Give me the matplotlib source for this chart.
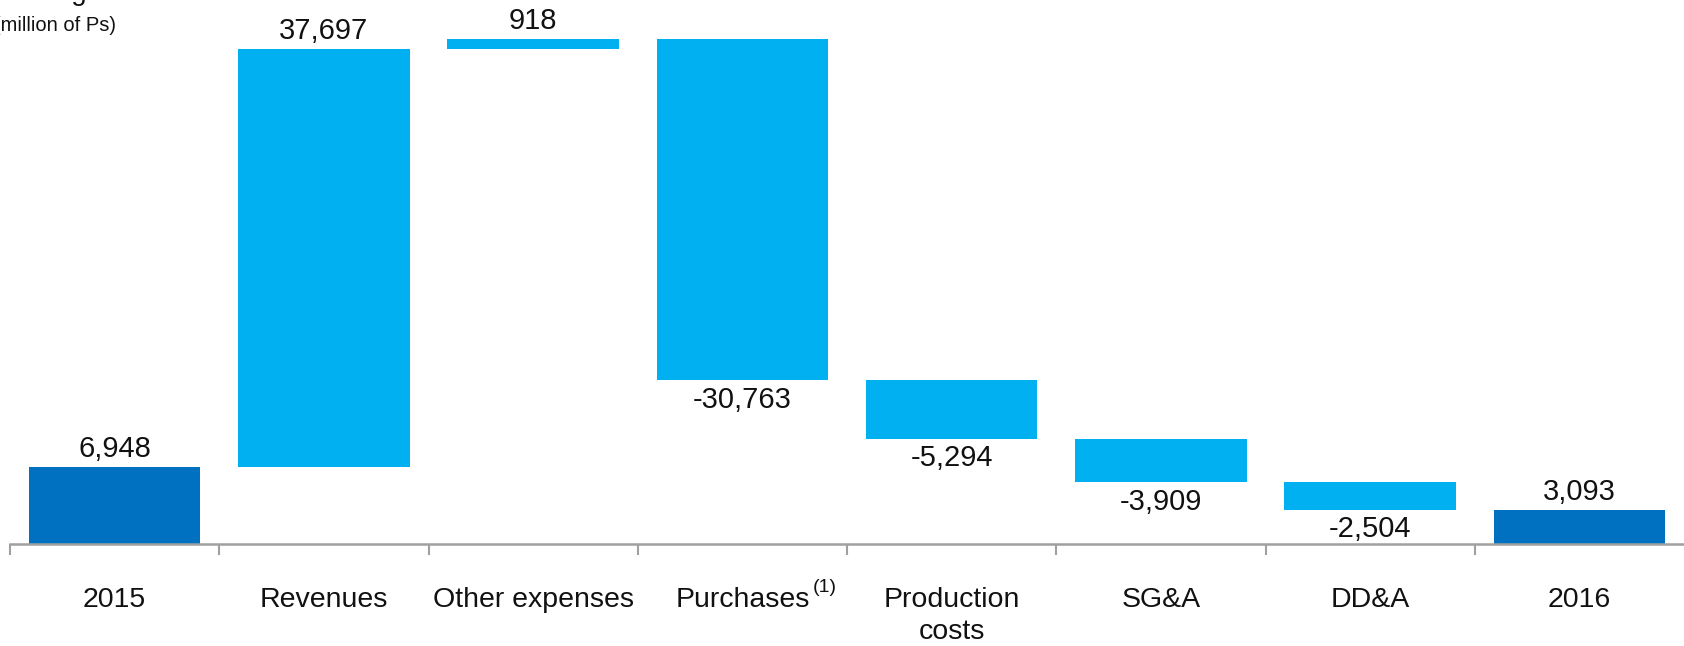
import numpy as np
import matplotlib
matplotlib.use("Agg")
import matplotlib.pyplot as plt

plt.rcParams['font.family'] = ['Liberation Sans', 'DejaVu Sans']

categories = ['2015', 'Revenues', 'Other expenses', 'Purchases',
              'Production\ncosts', 'SG&A', 'DD&A', '2016']
changes = [6948, 37697, 918, -30763, -5294, -3909, -2504]
total_2016 = 3093

DARK = '#0070C0'
LIGHT = '#00B0F0'
AXIS_GREY = '#A0A0A0'

# running totals for the floating bars
ends = np.cumsum(changes)
starts = np.concatenate([[0], ends[:-1]])
bottoms = list(np.minimum(starts, ends)) + [0]
heights = list(np.abs(changes)) + [total_2016]
values = changes + [total_2016]
colors = [DARK] + [LIGHT] * (len(changes) - 1) + [DARK]
tops = list(np.maximum(starts, ends)) + [total_2016]

fig = plt.figure(figsize=(16.84, 6.46), dpi=100)
ax = fig.add_axes([10 / 1684, 102 / 646, 1 - 10 / 1684, 544 / 646])

x = np.arange(len(categories))
ax.bar(x, heights, bottom=bottoms, width=0.82, color=colors)

for i, v in enumerate(values):
    label = f'{v:,}'
    if v >= 0:
        ax.annotate(label, (i, tops[i]), xytext=(0, 3), textcoords='offset points',
                    ha='center', va='bottom', fontsize=21, color='#111111')
    else:
        ax.annotate(label, (i, bottoms[i]), xytext=(0, -4), textcoords='offset points',
                    ha='center', va='top', fontsize=21, color='#111111')

for i, c in enumerate(categories):
    ax.annotate(c, (i, 0), xytext=(0, -31), textcoords='offset points',
                ha='center', va='top', fontsize=20.5, color='#111111',
                linespacing=1.3, annotation_clip=False)

# footnote marker on Purchases
ax.annotate('(1)', (3, 0), xytext=(51, -25), textcoords='offset points',
            ha='left', va='top', fontsize=14, color='#111111', annotation_clip=False)

ax.set_xlim(-0.5, len(categories) - 0.5)
ax.set_ylim(0, 49080)
ax.set_yticks([])
ax.set_xticks([])
ax.set_xticks(np.arange(-0.5, len(categories) - 0.5), minor=True)
ax.tick_params(axis='x', which='minor', length=8, width=1.5, color=AXIS_GREY,
               direction='out', labelbottom=False)
for side in ['top', 'right', 'left']:
    ax.spines[side].set_visible(False)
ax.spines['bottom'].set_color(AXIS_GREY)
ax.spines['bottom'].set_linewidth(1.8)

fig.text(-35 / 1684, 1.0, 'Operating income', ha='left', va='baseline',
         fontsize=20, color='#111111')
fig.text(-6 / 1684, 1 - 31 / 646, '(million of Ps)', ha='left', va='baseline',
         fontsize=14.5, color='#111111')

fig.savefig('out.png', dpi=100)
